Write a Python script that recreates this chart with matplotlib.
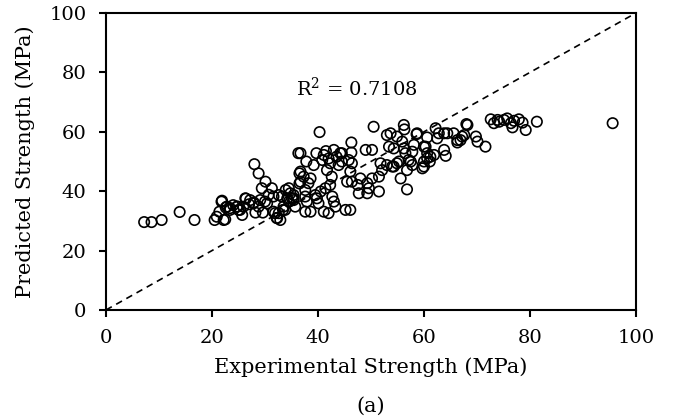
import matplotlib
matplotlib.use('Agg')
import matplotlib.pyplot as plt

# experimental vs predicted strength (MPa)
exp_strength = [
    7.2, 8.6, 10.5, 13.9, 16.7, 20.5, 22.5, 21.9, 21.4, 22.6, 23.4, 25.0, 25.7, 24.8,
    26.4, 27.0, 27.9, 28.0, 28.8, 30.1, 29.4, 31.3, 30.7, 28.2, 29.6, 29.1, 30.0, 32.2,
    32.9, 31.9, 33.4, 33.9, 33.2, 34.2, 35.1, 34.5, 36.3, 36.5, 36.5, 31.6, 32.6, 34.8,
    35.4, 34.5, 33.5, 33.8, 32.6, 32.3, 31.6, 30.4, 28.8, 27.8, 27.2, 26.3, 25.9, 25.3,
    24.7, 24.0, 23.4, 22.8, 21.8, 20.9, 22.2,
    40.3, 50.5, 36.7, 37.8, 39.2, 39.7, 41.1, 43.0, 43.5, 44.5, 46.3, 46.3, 49.0, 50.2,
    36.7, 37.3, 38.6, 36.7, 38.2, 37.6, 37.6, 37.9, 37.6, 38.6, 39.5, 35.4, 35.4, 35.7,
    40.1, 42.3, 41.7, 42.6, 42.3, 41.4, 40.5, 39.8, 42.7, 43.0, 43.3, 42.0, 41.1, 45.2,
    46.1, 44.5, 43.9, 46.4, 45.8, 45.5, 46.1, 47.7, 49.3, 51.5, 49.6, 47.5, 51.8, 53.0,
    54.3, 55.3, 52.1, 51.5, 50.2, 49.3, 48.0, 46.4, 41.5, 42.0, 40.8, 44.2,
    53.0, 53.4, 55.9, 56.2, 56.5, 56.2, 56.3, 58.6, 60.6, 60.3, 62.2, 62.5, 63.8, 64.1,
    64.4, 65.6, 66.3, 67.2, 69.8, 70.1, 60.6, 60.0, 61.1, 61.9, 57.1, 57.8, 56.8, 55.6,
    56.8, 53.7, 54.9, 54.3, 54.9, 54.0, 58.7, 63.8, 62.8, 66.3, 71.6, 60.0, 60.6, 61.2,
    60.0, 59.7, 57.5, 57.8, 58.1, 68.0, 68.2, 67.6, 66.9,
    72.6, 73.2, 74.2, 75.1, 75.7, 76.4, 76.7, 77.0, 77.9, 78.6, 79.2, 81.3, 95.6, 73.9,
]
pred_strength = [
    29.6, 29.6, 30.3, 33.0, 30.3, 30.3, 30.5, 36.8, 33.1, 34.5, 34.3, 33.7, 32.0, 34.8,
    37.5, 35.6, 36.2, 49.1, 46.0, 43.2, 41.0, 41.0, 38.8, 32.8, 32.8, 37.0, 36.5, 31.0,
    30.3, 32.6, 33.7, 40.4, 38.2, 37.6, 37.6, 41.0, 52.8, 46.0, 42.6, 38.2, 38.7, 39.3,
    37.6, 36.5, 34.8, 33.7, 32.6, 30.9, 33.1, 35.9, 34.8, 35.9, 37.0, 37.6, 34.8, 33.7,
    34.8, 35.3, 33.7, 34.8, 36.5, 31.4, 30.3,
    59.9, 61.7, 52.8, 50.0, 48.8, 52.8, 52.2, 53.9, 51.6, 52.8, 56.4, 53.0, 53.9, 53.9,
    46.6, 44.9, 44.3, 43.2, 42.7, 40.4, 38.2, 36.5, 33.1, 33.1, 38.7, 38.7, 37.0, 34.8,
    35.9, 49.4, 47.1, 44.9, 42.1, 41.0, 39.9, 37.6, 38.2, 36.5, 34.8, 32.6, 33.1, 33.7,
    33.7, 50.0, 48.8, 49.4, 50.5, 43.2, 46.6, 39.3, 39.3, 39.9, 41.0, 42.1, 49.4, 48.8,
    48.3, 50.0, 47.1, 44.9, 44.3, 42.7, 44.3, 43.2, 53.5, 51.0, 50.5, 52.8,
    58.9, 55.0, 56.7, 54.4, 52.8, 62.3, 60.8, 59.2, 58.1, 55.0, 61.2, 57.8, 53.9, 51.9,
    59.5, 59.5, 56.4, 58.4, 58.4, 56.7, 51.1, 48.3, 50.0, 52.2, 50.5, 48.8, 47.1, 44.3,
    40.6, 59.5, 58.4, 54.4, 49.4, 48.3, 59.5, 59.5, 59.5, 57.2, 55.0, 55.0, 52.8, 51.6,
    50.0, 47.7, 50.0, 53.3, 55.6, 62.6, 62.3, 58.9, 57.2,
    64.2, 62.9, 63.4, 64.0, 64.5, 62.9, 61.5, 63.7, 64.2, 63.1, 60.6, 63.4, 62.9, 64.0,
]
ticks = [0, 20, 40, 60, 80, 100]
r2_text = 'R$^2$ = 0.7108'

plt.rcParams['font.family'] = ['DejaVu Serif']
plt.rcParams['mathtext.fontset'] = 'dejavuserif'

fig = plt.figure(figsize=(6.82, 4.18), dpi=100)
ax = fig.add_axes([0.1554, 0.2584, 0.7771, 0.7105])

ax.scatter(exp_strength, pred_strength, s=56, facecolors='none',
           edgecolors='black', linewidths=1.2, zorder=3)
ax.plot([0, 100], [0, 100], color='black', linestyle=(0, (4, 3)), linewidth=1.2, zorder=2)

ax.set_xlim(0, 100)
ax.set_ylim(0, 100)
ax.set_xticks(ticks)
ax.set_yticks(ticks)
ax.tick_params(direction='out', length=5, width=1.5, labelsize=14, pad=9)
for s in ax.spines.values():
    s.set_linewidth(1.5)

ax.text(47.4, 74.7, r2_text, ha='center', va='center', fontsize=14)

ax.set_xlabel('Experimental Strength (MPa)', fontsize=15, va='center')
ax.xaxis.set_label_coords(0.5, -0.192)
ax.set_ylabel('Predicted Strength (MPa)', fontsize=15, va='center')
ax.yaxis.set_label_coords(-0.153, 0.5)

fig.text(0.543, 1 - 406 / 418, '(a)', ha='center', va='center', fontsize=15)

plt.savefig('out.png', dpi=100, facecolor='white')
